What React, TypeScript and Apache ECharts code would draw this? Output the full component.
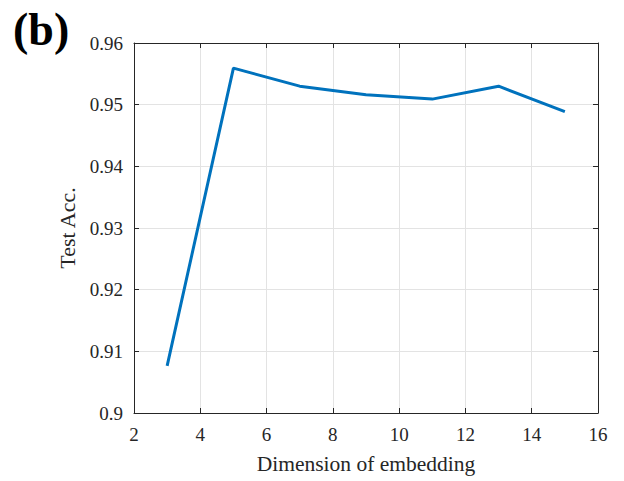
import React, { useEffect, useRef } from "react";
import * as echarts from "echarts";

const dims = [3, 5, 7, 9, 11, 13, 15];
const acc = [0.90765, 0.95592, 0.953, 0.95162, 0.9509, 0.953, 0.94887];
const yTicks = [0.9, 0.91, 0.92, 0.93, 0.94, 0.95, 0.96];

const FONT = "'Liberation Serif', 'Times New Roman', serif";
const AXIS = "#262626";

export default function App() {
  const ref = useRef<HTMLDivElement>(null);
  useEffect(() => {
    const chart = echarts.init(ref.current!, null, { renderer: "svg" });
    const baseX = {
      type: "value" as const,
      min: 2,
      max: 16,
      interval: 2,
    };
    const baseY = {
      type: "value" as const,
      min: 0.9,
      max: 0.96,
      interval: 0.01,
    };
    chart.setOption({
      animation: false,
      backgroundColor: "#fff",
      grid: { left: 134, top: 43, right: 26, bottom: 68, containLabel: false },
      title: {
        text: "(b)",
        left: 8,
        top: 1,
        textStyle: { fontFamily: FONT, fontWeight: "bold", fontSize: 46, color: "#000" },
      },
      xAxis: [
        {
          ...baseX,
          position: "bottom",
          name: "Dimension of embedding",
          nameLocation: "middle",
          nameGap: 40,
          nameTextStyle: { fontFamily: FONT, fontSize: 21.5, color: "#262626" },
          axisLine: { show: true, onZero: false, lineStyle: { color: AXIS, width: 1 } },
          axisTick: { show: true, inside: true, length: 5, lineStyle: { color: AXIS } },
          axisLabel: {
            fontFamily: FONT,
            fontSize: 19,
            color: "#262626",
            margin: 12,
            formatter: (v: number) => String(v),
          },
          splitLine: { show: true, lineStyle: { color: "#e3e3e3", width: 1 } },
        },
        {
          ...baseX,
          position: "top",
          axisLine: { show: true, onZero: false, lineStyle: { color: AXIS, width: 1 } },
          axisTick: { show: true, inside: true, length: 5, lineStyle: { color: AXIS } },
          axisLabel: { show: false },
          splitLine: { show: false },
        },
      ],
      yAxis: [
        {
          ...baseY,
          position: "left",
          name: "Test Acc.",
          nameLocation: "middle",
          nameGap: 55,
          nameTextStyle: { fontFamily: FONT, fontSize: 22, color: "#262626" },
          axisLine: { show: true, onZero: false, lineStyle: { color: AXIS, width: 1 } },
          axisTick: { show: true, inside: true, length: 5, lineStyle: { color: AXIS } },
          axisLabel: {
            fontFamily: FONT,
            fontSize: 19,
            color: "#262626",
            margin: 11,
            formatter: (v: number) => {
              const t = yTicks.find((y) => Math.abs(y - v) < 1e-9);
              if (t === undefined) return "";
              return t === 0.9 ? "0.9" : t.toFixed(2);
            },
          },
          splitLine: { show: true, lineStyle: { color: "#e3e3e3", width: 1 } },
        },
        {
          ...baseY,
          position: "right",
          axisLine: { show: true, onZero: false, lineStyle: { color: AXIS, width: 1 } },
          axisTick: { show: true, inside: true, length: 5, lineStyle: { color: AXIS } },
          axisLabel: { show: false },
          splitLine: { show: false },
        },
      ],
      series: [
        {
          type: "line",
          data: dims.map((d, i) => [d, acc[i]]),
          xAxisIndex: 0,
          yAxisIndex: 0,
          showSymbol: false,
          symbol: "none",
          lineStyle: { color: "#0072BD", width: 3 },
          z: 5,
        },
      ],
    });
    return () => chart.dispose();
  }, []);
  return (
    <div
      ref={ref}
      style={{ position: "absolute", left: 0, top: 0, width: 624, height: 481 }}
    />
  );
}
